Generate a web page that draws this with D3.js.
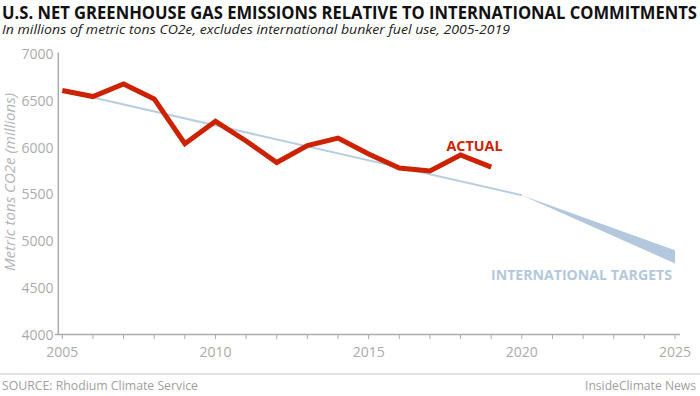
<!DOCTYPE html>
<html>
<head>
<meta charset="utf-8">
<script src="https://cdn.jsdelivr.net/npm/d3@7"></script>
<style>
  html, body { margin: 0; padding: 0; background: #fff; }
  svg { display: block; }
</style>
</head>
<body>
<svg id="chart"></svg>
<script>
// data
const years = [2005, 2006, 2007, 2008, 2009, 2010, 2011, 2012, 2013, 2014, 2015, 2016, 2017, 2018, 2019];
const actual = [6610, 6545, 6680, 6520, 6040, 6280, 6070, 5840, 6020, 6100, 5930, 5780, 5750, 5920, 5790];
const targetYears = [2005, 2020];
const targetValues = [6610, 5490];
const bandYears = [2020, 2025];
const bandLow = [5490, 4760];
const bandHigh = [5490, 4900];
const yTicks = [4000, 4500, 5000, 5500, 6000, 6500, 7000];
const xTicks = [2005, 2010, 2015, 2020, 2025];
const minorTicks = d3.range(2005, 2026);

const width = 700, height = 396;
const font = "'Open Sans', 'Liberation Sans', sans-serif";
const grey = "#ababab";

const svg = d3.select("#chart").attr("width", width).attr("height", height);

const x = d3.scaleLinear().domain([2005, 2025]).range([62.3, 675]);
const y = d3.scaleLinear().domain([4000, 7000]).range([334.5, 54]);

// titles
svg.append("text")
  .attr("x", 2).attr("y", 19)
  .attr("font-family", "'Liberation Sans Narrow', 'Open Sans', sans-serif")
  .attr("font-weight", "bold").attr("font-size", 18.5)
  .attr("textLength", 695).attr("lengthAdjust", "spacingAndGlyphs")
  .attr("fill", "#111")
  .text("U.S. NET GREENHOUSE GAS EMISSIONS RELATIVE TO INTERNATIONAL COMMITMENTS");

svg.append("text")
  .attr("x", 2).attr("y", 33.5)
  .attr("font-family", "'Liberation Sans Narrow', 'Open Sans', sans-serif")
  .attr("font-style", "italic").attr("font-size", 13.5)
  .attr("textLength", 508).attr("lengthAdjust", "spacingAndGlyphs")
  .attr("fill", "#222")
  .text("In millions of metric tons CO2e, excludes international bunker fuel use, 2005-2019");

// axes
svg.append("line")
  .attr("x1", 58.3).attr("x2", 58.3)
  .attr("y1", 52.5).attr("y2", y(4000))
  .attr("stroke", grey).attr("stroke-width", 1.5);

svg.append("line")
  .attr("x1", 55).attr("x2", 680)
  .attr("y1", y(4000)).attr("y2", y(4000))
  .attr("stroke", grey).attr("stroke-width", 1.5);

svg.append("g").selectAll("line")
  .data(minorTicks)
  .join("line")
  .attr("x1", d => x(d)).attr("x2", d => x(d))
  .attr("y1", y(4000)).attr("y2", y(4000) + 4.5)
  .attr("stroke", grey).attr("stroke-width", 1);

svg.append("g").selectAll("text")
  .data(xTicks)
  .join("text")
  .attr("x", d => x(d)).attr("y", 357)
  .attr("text-anchor", "middle")
  .attr("font-family", font).attr("font-size", 14)
  .attr("fill", grey)
  .text(d => d);

svg.append("g").selectAll("text")
  .data(yTicks)
  .join("text")
  .attr("x", 53.5).attr("y", d => y(d))
  .attr("dy", "0.36em")
  .attr("text-anchor", "end")
  .attr("font-family", font).attr("font-size", 14)
  .attr("fill", grey)
  .text(d => d);

svg.append("text")
  .attr("transform", "translate(15," + 182 + ") rotate(-90)")
  .attr("text-anchor", "middle")
  .attr("font-family", font).attr("font-style", "italic").attr("font-size", 14)
  .attr("textLength", 178).attr("lengthAdjust", "spacingAndGlyphs")
  .attr("fill", "#b5b5b5")
  .text("Metric tons CO2e (millions)");

// targets
const band = d3.area()
  .x((d, i) => x(bandYears[i]))
  .y0((d, i) => y(bandLow[i]))
  .y1((d, i) => y(bandHigh[i]));

svg.append("path")
  .attr("d", band(bandYears))
  .attr("fill", "#b3c8dc");

svg.append("path")
  .attr("d", d3.line().x((d, i) => x(targetYears[i])).y(d => y(d))(targetValues))
  .attr("fill", "none")
  .attr("stroke", "#b8cde1").attr("stroke-width", 2);

svg.append("text")
  .attr("x", 672).attr("y", 279.5)
  .attr("text-anchor", "end")
  .attr("font-family", font).attr("font-weight", "bold").attr("font-size", 15)
  .attr("textLength", 181).attr("lengthAdjust", "spacingAndGlyphs")
  .attr("fill", "#b3c8dc")
  .text("INTERNATIONAL TARGETS");

// actual
svg.append("path")
  .attr("d", d3.line().x((d, i) => x(years[i])).y(d => y(d))(actual))
  .attr("fill", "none")
  .attr("stroke", "#cc2200").attr("stroke-width", 5)
  .attr("stroke-linejoin", "miter");

svg.append("text")
  .attr("x", 446.5).attr("y", 151)
  .attr("font-family", font).attr("font-weight", "bold").attr("font-size", 15)
  .attr("textLength", 56).attr("lengthAdjust", "spacingAndGlyphs")
  .attr("fill", "#cc2200")
  .text("ACTUAL");

// footer
svg.append("line")
  .attr("x1", 0).attr("x2", width)
  .attr("y1", 374).attr("y2", 374)
  .attr("stroke", "#c4c4c4").attr("stroke-width", 1);

svg.append("text")
  .attr("x", 2).attr("y", 389.5)
  .attr("font-family", font).attr("font-size", 13)
  .attr("textLength", 196).attr("lengthAdjust", "spacingAndGlyphs")
  .attr("fill", "#a0a0a0")
  .text("SOURCE: Rhodium Climate Service");

svg.append("text")
  .attr("x", 696).attr("y", 389.5)
  .attr("text-anchor", "end")
  .attr("font-family", font).attr("font-size", 13)
  .attr("textLength", 111).attr("lengthAdjust", "spacingAndGlyphs")
  .attr("fill", "#a0a0a0")
  .text("InsideClimate News");
</script>
</body>
</html>
